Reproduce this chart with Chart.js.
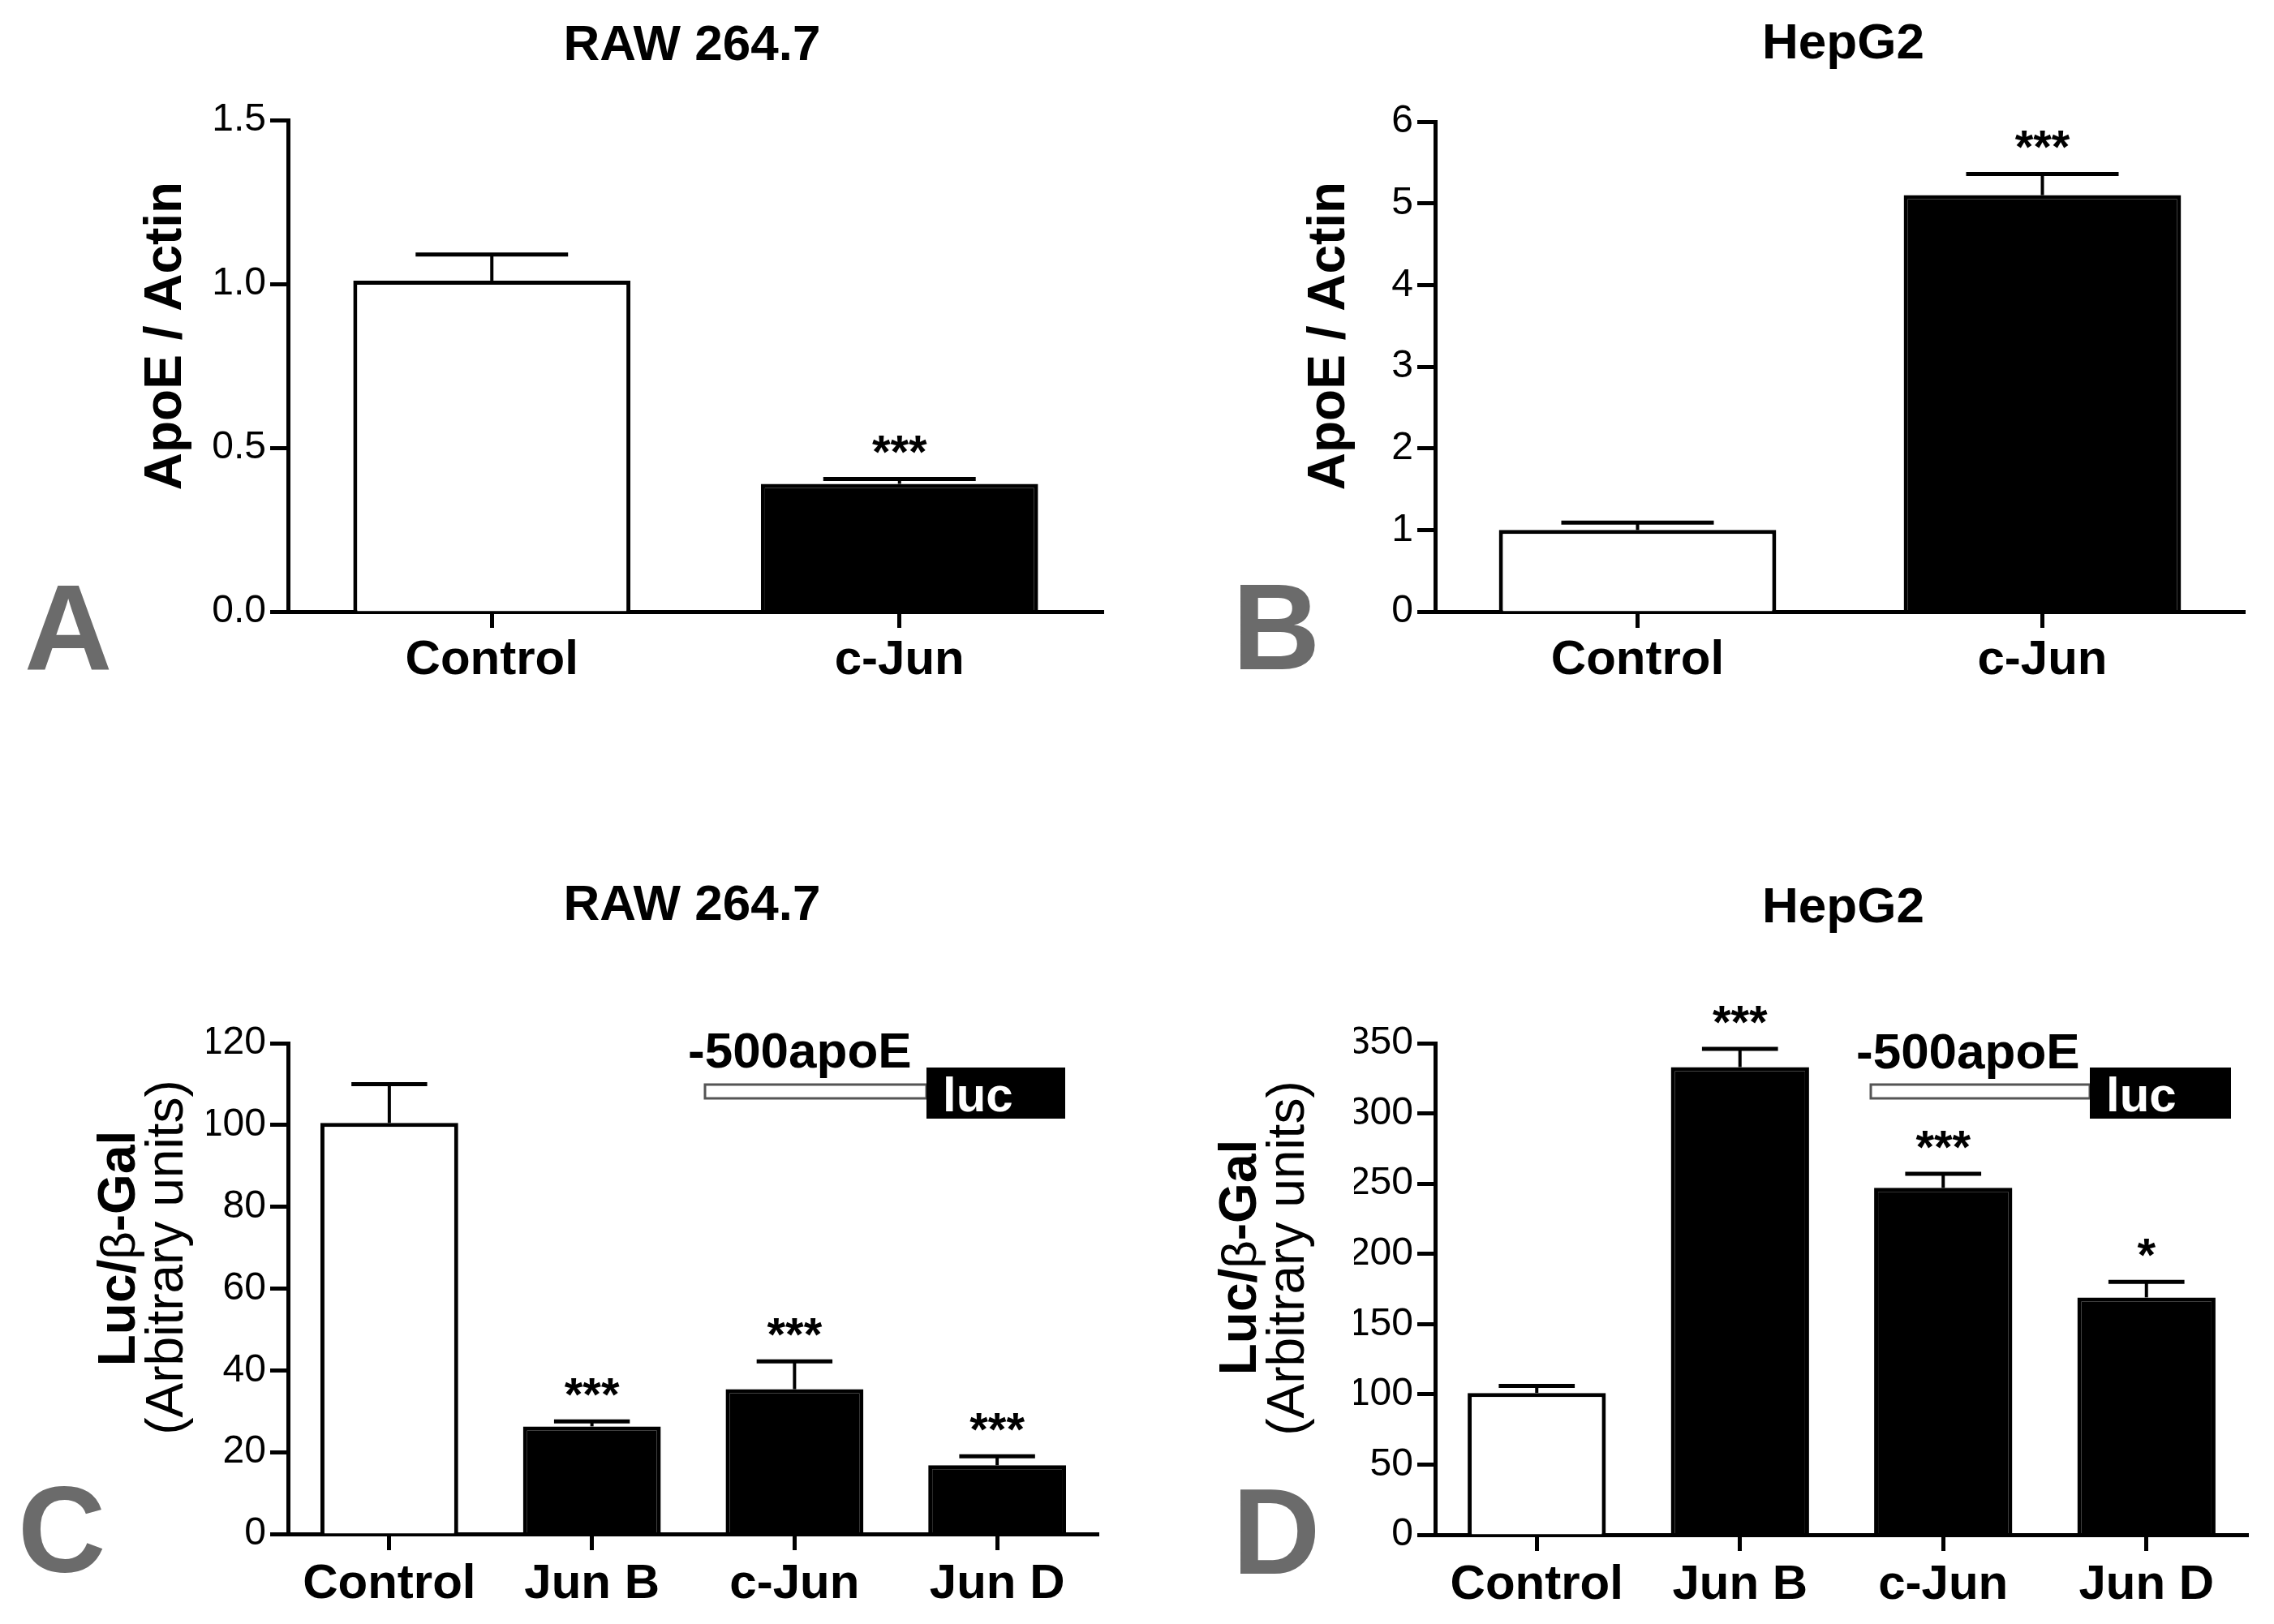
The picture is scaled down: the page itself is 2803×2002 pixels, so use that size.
<!DOCTYPE html>
<html><head><meta charset="utf-8">
<script src="https://cdn.jsdelivr.net/npm/chart.js@4.4.0/dist/chart.umd.min.js"></script>
<style>
html,body{margin:0;padding:0;background:#fff;}
body{width:2803px;height:2002px;position:relative;overflow:hidden;}
canvas{position:absolute;}
</style></head><body>
<canvas id="cA"></canvas>
<canvas id="cB"></canvas>
<canvas id="cC"></canvas>
<canvas id="cD"></canvas>
<script>
// ---------- data ----------
const categoriesAB = ['Control', 'c-Jun'];
const categoriesCD = ['Control', 'Jun B', 'c-Jun', 'Jun D'];

const valuesA = [1.01, 0.39];
const errorsA = [0.08, 0.015];
const starsA  = ['', '***'];

const valuesB = [1.00, 5.10];
const errorsB = [0.09, 0.26];
const starsB  = ['', '***'];

const valuesC = [100.5, 26.3, 35.4, 16.8];
const errorsC = [9.5, 1.2, 6.8, 2.2];
const starsC  = ['', '***', '***', '***'];

const valuesD = [101, 333, 247, 169];
const errorsD = [5, 13, 10, 11];
const starsD  = ['', '***', '***', '*'];

const yTicksA = [0, 0.5, 1.0, 1.5];
const yTicksB = [0, 1, 2, 3, 4, 5, 6];
const yTicksC = [0, 20, 40, 60, 80, 100, 120];
const yTicksD = [0, 50, 100, 150, 200, 250, 300, 350];

const FONT = "'Liberation Sans', Arial, Helvetica, sans-serif";

function fillsFor(n){ const f=[]; for(let i=0;i<n;i++) f.push(i===0?'#ffffff':'#000000'); return f; }

function makePanel(p){
  const cv = document.getElementById(p.id);
  cv.width = p.w; cv.height = p.h;
  cv.style.left = p.left+'px'; cv.style.top = p.top+'px';
  cv.style.width = p.w+'px'; cv.style.height = p.h+'px';
  const YW = 100, XH = 100;

  const annot = {
    id: 'annot'+p.id,
    afterDatasetsDraw(chart){
      const ctx = chart.ctx, ys = chart.scales.y;
      const meta = chart.getDatasetMeta(0);
      ctx.save();
      meta.data.forEach((bar, i) => {
        const x = bar.x;
        const yTop = ys.getPixelForValue(p.values[i]);
        const yErr = ys.getPixelForValue(p.values[i] + p.errors[i]);
        const cap = bar.width * 0.55 / 2;
        ctx.strokeStyle = '#000';
        ctx.lineWidth = 4;
        ctx.beginPath(); ctx.moveTo(x, yTop); ctx.lineTo(x, yErr); ctx.stroke();
        ctx.lineWidth = 5;
        ctx.beginPath(); ctx.moveTo(x - cap, yErr); ctx.lineTo(x + cap, yErr); ctx.stroke();
        if (p.stars[i]) {
          ctx.fillStyle = '#000';
          ctx.font = 'bold 58px ' + FONT;
          ctx.textAlign = 'center'; ctx.textBaseline = 'alphabetic';
          ctx.fillText(p.stars[i], x, yErr - 13);
        }
      });
      ctx.restore();
    },
    afterDraw(chart){
      const ctx = chart.ctx;
      ctx.save();
      // panel title
      ctx.fillStyle = '#000';
      ctx.font = 'bold 62px ' + FONT;
      ctx.textAlign = 'center'; ctx.textBaseline = 'alphabetic';
      ctx.fillText(p.title, p.titleX, p.titleY);
      // panel letter
      ctx.fillStyle = '#6b6b6b';
      ctx.font = 'bold 150px ' + FONT;
      ctx.textAlign = 'left';
      ctx.fillText(p.letter, p.letterX, p.letterY);
      // y titles
      ctx.fillStyle = '#000';
      p.yTitle.forEach(line => {
        ctx.save();
        ctx.translate(line.x, line.y);
        ctx.rotate(-Math.PI/2);
        ctx.textBaseline = 'alphabetic';
        ctx.textAlign = 'left';
        let total = 0;
        line.parts.forEach(pt => { ctx.font = pt.font + ' ' + FONT; pt.w = ctx.measureText(pt.t).width; total += pt.w; });
        let cx = -total/2;
        line.parts.forEach(pt => { ctx.font = pt.font + ' ' + FONT; ctx.fillText(pt.t, cx, 0); cx += pt.w; });
        ctx.restore();
      });
      // promoter construct
      if (p.promo) {
        const q = p.promo;
        ctx.fillStyle = '#000';
        ctx.font = 'bold 62px ' + FONT;
        ctx.textAlign = 'left';
        ctx.fillText('-500apoE', q.textX, q.textY);
        ctx.fillStyle = '#fff';
        ctx.fillRect(q.barX0, q.barY0, q.barX1 - q.barX0, q.barY1 - q.barY0);
        ctx.strokeStyle = '#555'; ctx.lineWidth = 3;
        ctx.strokeRect(q.barX0, q.barY0, q.barX1 - q.barX0, q.barY1 - q.barY0);
        ctx.fillStyle = '#000';
        ctx.fillRect(q.boxX0, q.boxY0, q.boxX1 - q.boxX0, q.boxY1 - q.boxY0);
        ctx.fillStyle = '#fff';
        ctx.font = 'bold 60px ' + FONT;
        ctx.fillText('luc', q.boxX0 + 20, q.boxY1 - 9);
      }
      ctx.restore();
    }
  };

  return new Chart(cv, {
    type: 'bar',
    data: {
      labels: p.labels,
      datasets: [{
        data: p.values,
        backgroundColor: fillsFor(p.values.length),
        borderColor: '#000',
        borderWidth: 5,
        barPercentage: p.barPct,
        categoryPercentage: 1.0
      }]
    },
    options: {
      responsive: false,
      animation: false,
      devicePixelRatio: 1,
      layout: { padding: { left: p.area.l - YW, right: p.w - p.area.r, top: p.area.t, bottom: p.h - p.area.b - XH } },
      plugins: { legend: { display: false }, tooltip: { enabled: false }, title: { display: false } },
      scales: {
        x: {
          type: 'category', offset: true,
          grid: { offset: false, drawOnChartArea: false, drawTicks: true, tickLength: 20, tickWidth: 5, tickColor: '#000' },
          border: { display: true, width: 5, color: '#000' },
          ticks: { color: '#000', font: { family: FONT, size: 60, weight: 'bold' }, padding: p.xPad, maxRotation: 0, autoSkip: false },
          afterFit(s){ s.height = XH; }
        },
        y: {
          min: p.yTicks[0], max: p.yTicks[p.yTicks.length - 1],
          afterBuildTicks(s){ s.ticks = p.yTicks.map(v => ({ value: v })); },
          ticks: { color: '#000', font: { family: FONT, size: 48 }, padding: 5, callback: p.fmt },
          grid: { drawOnChartArea: false, drawTicks: true, tickLength: 22, tickWidth: 5, tickColor: '#000' },
          border: { display: true, width: 5, color: '#000' },
          afterFit(s){ s.width = YW; }
        }
      }
    },
    plugins: [annot]
  });
}

makePanel({
  id: 'cA', left: 0, top: 0, w: 1401, h: 1000,
  area: { l: 355, r: 1360, t: 148, b: 754 },
  labels: categoriesAB, values: valuesA, errors: errorsA, stars: starsA,
  yTicks: yTicksA, fmt: v => Number(v).toFixed(1), barPct: 0.68, xPad: 4,
  title: 'RAW 264.7', titleX: 853, titleY: 74,
  letter: 'A', letterX: 30, letterY: 825,
  yTitle: [{ x: 223, y: 414, parts: [{ t: 'ApoE / Actin', font: 'bold 64px' }] }]
});

makePanel({
  id: 'cB', left: 1401, top: 0, w: 1402, h: 1000,
  area: { l: 368, r: 1366, t: 150, b: 754 },
  labels: categoriesAB, values: valuesB, errors: errorsB, stars: starsB,
  yTicks: yTicksB, fmt: v => String(v), barPct: 0.685, xPad: 4,
  title: 'HepG2', titleX: 871, titleY: 72,
  letter: 'B', letterX: 118, letterY: 825,
  yTitle: [{ x: 256, y: 414, parts: [{ t: 'ApoE / Actin', font: 'bold 64px' }] }]
});

makePanel({
  id: 'cC', left: 0, top: 1000, w: 1401, h: 1002,
  area: { l: 355, r: 1354, t: 286, b: 891 },
  labels: categoriesCD, values: valuesC, errors: errorsC, stars: starsC,
  yTicks: yTicksC, fmt: v => String(v), barPct: 0.68, xPad: 6,
  title: 'RAW 264.7', titleX: 853, titleY: 134,
  letter: 'C', letterX: 22, letterY: 938,
  yTitle: [
    { x: 166, y: 539, parts: [{ t: 'Luc/', font: 'bold 64px' }, { t: 'β', font: '60px' }, { t: '-Gal', font: 'bold 64px' }] },
    { x: 225, y: 550, parts: [{ t: '(Arbitrary units)', font: '64px' }] }
  ],
  promo: { textX: 848, textY: 316, barX0: 869, barY0: 337, barX1: 1142, barY1: 354, boxX0: 1142, boxY0: 316, boxX1: 1313, boxY1: 379 }
});

makePanel({
  id: 'cD', left: 1401, top: 1000, w: 1402, h: 1002,
  area: { l: 368, r: 1370, t: 286, b: 892 },
  labels: categoriesCD, values: valuesD, errors: errorsD, stars: starsD,
  yTicks: yTicksD, fmt: v => String(v), barPct: 0.68, xPad: 6,
  title: 'HepG2', titleX: 871, titleY: 137,
  letter: 'D', letterX: 118, letterY: 940,
  yTitle: [
    { x: 147, y: 550, parts: [{ t: 'Luc/', font: 'bold 64px' }, { t: 'β', font: '60px' }, { t: '-Gal', font: 'bold 64px' }] },
    { x: 206, y: 551, parts: [{ t: '(Arbitrary units)', font: '64px' }] }
  ],
  promo: { textX: 887, textY: 317, barX0: 905, barY0: 337, barX1: 1175, barY1: 354, boxX0: 1175, boxY0: 316, boxX1: 1349, boxY1: 379 }
});
</script>
</body></html>
